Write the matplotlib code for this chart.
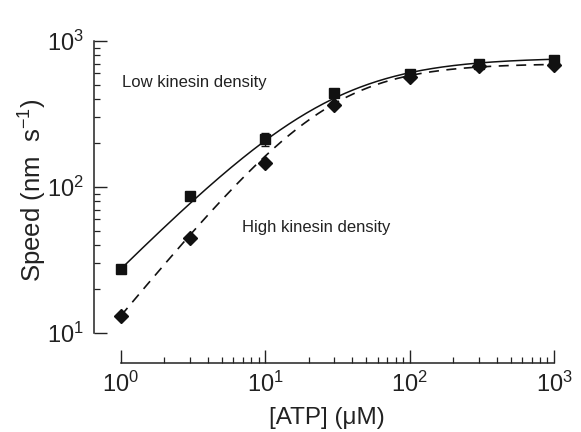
import numpy as np
import matplotlib
matplotlib.use("Agg")
import matplotlib.pyplot as plt
from matplotlib.ticker import FixedLocator, NullFormatter

plt.rcParams['font.family'] = ['Liberation Sans', 'DejaVu Sans']
plt.rcParams['mathtext.default'] = 'regular'

# Data
atp = [1, 3, 10, 30, 100, 300, 1000]
low_speed = [27.4, 87, 213, 441, 594, 695, 741]
low_err = [0, 6, 22, 25, 20, 20, 15]
high_speed = [13.1, 44.7, 146, 365, 570, 670, 690]

# Fit parameters (Hill / Michaelis-Menten type curves)
low_vmax, low_k, low_n = 770.0, 27.0, 1.0
high_vmax, high_k, high_n = 700.0, 27.0, 1.2

x_major = [1, 10, 100, 1000]
y_major = [10, 100, 1000]

W, H = 581, 432
fig = plt.figure(figsize=(W / 100, H / 100), dpi=100)

x_left_px, x_right_px = 94, 554
y_top_px, y_bot_px = 41, 363
ax = fig.add_axes([x_left_px / W, 1 - y_bot_px / H,
                   (x_right_px - x_left_px) / W, (y_bot_px - y_top_px) / H])
ax.set_xscale('log')
ax.set_yscale('log')
ax.set_xlim(10 ** (-27 / 144.3), 1000)
ax.set_ylim(10 ** (1 - 30 / 146.0), 1000)

xs = np.logspace(0, 3, 300)
low_fit = low_vmax * xs ** low_n / (low_k ** low_n + xs ** low_n)
high_fit = high_vmax * xs ** high_n / (high_k ** high_n + xs ** high_n)
ax.plot(xs, low_fit, color='#111111', lw=1.1, clip_on=False)
ax.plot(xs, high_fit, color='#111111', lw=1.2, ls=(0, (6, 4.5)), clip_on=False)

ax.errorbar(atp, low_speed, yerr=low_err, fmt='s', color='#111111', ms=7.5,
            capsize=3, elinewidth=1, clip_on=False, zorder=4)
ax.plot(atp, high_speed, 'D', color='#111111', ms=7, clip_on=False, zorder=4)

for s in ['top', 'right']:
    ax.spines[s].set_visible(False)
ax.spines['left'].set_bounds(10, 1000)
ax.spines['bottom'].set_bounds(1, 1000)
for s in ['left', 'bottom']:
    ax.spines[s].set_linewidth(1.1)
    ax.spines[s].set_color('#222222')

def minors(majors):
    out = []
    for m in majors[:-1]:
        out += [m * k for k in range(2, 10)]
    return out

ax.set_xticks(x_major)
ax.set_yticks(y_major)
ax.xaxis.set_minor_locator(FixedLocator(minors(x_major)))
ax.yaxis.set_minor_locator(FixedLocator(minors(y_major)))
ax.xaxis.set_minor_formatter(NullFormatter())
ax.yaxis.set_minor_formatter(NullFormatter())
ax.tick_params(which='major', direction='in', length=9.5, width=1.0,
               labelsize=17, colors='#222222', pad=6)
ax.tick_params(which='minor', direction='in', length=4.5, width=0.9,
               colors='#222222')
ax.tick_params(axis='y', which='major', pad=7)

fig.text(327 / W, 1 - 418 / H, '[ATP] (\u03bcM)', ha='center', va='center',
         fontsize=17.5, color='#222222')
fig.text(33 / W, 1 - 190 / H, 'Speed (nm  s$^{-1}$)', ha='center', va='center',
         rotation=90, fontsize=18.5, color='#222222')

ax.text(1.02, 520, 'Low kinesin density', fontsize=12, color='#222222',
        va='center', ha='left')
ax.text(6.9, 53, 'High kinesin density', fontsize=12, color='#222222',
        va='center', ha='left')

fig.savefig('out.png', dpi=100)
